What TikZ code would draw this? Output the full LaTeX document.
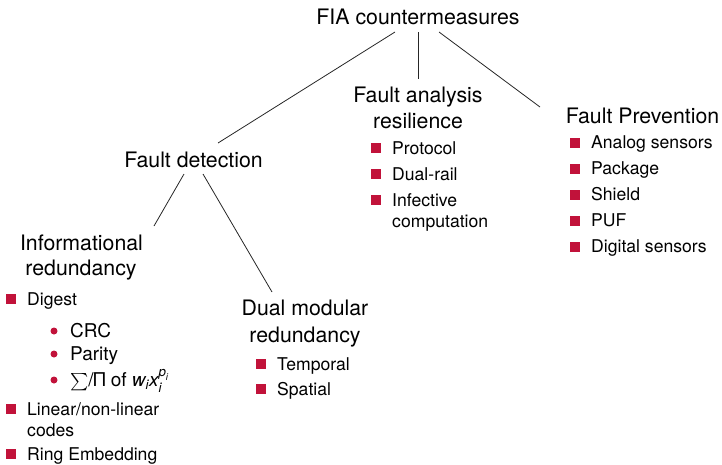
\documentclass[tikz,border=0pt]{standalone}
\usepackage{fontspec}
\usepackage{amsmath}
\setmainfont{TeX Gyre Heros}
\definecolor{crim}{RGB}{193,18,58}
\begin{document}
\begin{tikzpicture}[x=1pt,y=-1pt,
  head/.style={inner sep=0pt, anchor=base, font=\fontsize{21.3}{25}\selectfont},
  itm/.style={inner sep=0pt, anchor=base west, font=\fontsize{17.6}{21}\selectfont},
  subitm/.style={inner sep=0pt, anchor=base west, font=\fontsize{19}{23}\selectfont},
  sq/.style={fill=crim, inner sep=0pt, minimum size=10pt},
  rdot/.style={circle, fill=crim, inner sep=0pt, minimum size=7pt},
  conn/.style={line width=0.8pt, black!85}]
\useasboundingbox (0,0) rectangle (722,464);

% headings
\node[head] (title) at (418,24) {FIA countermeasures};
\node[head] (fd) at (193.5,167) {Fault detection};
\node[head] (fa) at (418,102) {Fault analysis};
\node[head] (fa2) at (418,128) {resilience};
\node[head] (fp) at (642.5,123) {Fault Prevention};
\node[head] (ir) at (81.5,250) {Informational};
\node[head] (ir2) at (81,275) {redundancy};
\node[head] (dm) at (305,315) {Dual modular};
\node[head] (dm2) at (305,342) {redundancy};

% connectors
\draw[conn] ([shift={(-23,8)}]title.base) -- ([shift={(24.5,-24)}]fd.base);
\draw[conn] ([shift={(0,8)}]title.base) -- ([shift={(0,-23)}]fa.base);
\draw[conn] ([shift={(21,8)}]title.base) -- ([shift={(-102.5,-16)}]fp.base);
\draw[conn] ([shift={(-9.5,7)}]fd.base) -- ([shift={(72.5,-24)}]ir.base);
\draw[conn] ([shift={(9.5,7)}]fd.base) -- ([shift={(-33,-23)}]dm.base);

% Fault analysis resilience items
\node[sq] (fab1) at (376,147.5) {};
\node[itm] (fat1) at (392,154) {Protocol};
\node[sq] (fab2) at (376,173.5) {};
\node[itm] (fat2) at (392,180) {Dual-rail};
\node[sq] (fab3) at (376,199.5) {};
\node[itm] (fat3) at (392,206) {Infective};
\node[itm] (fat3b) at (392,227) {computation};

% Fault Prevention items
\node[sq] (fpb1) at (575,142.5) {};
\node[itm] (fpt1) at (591,148) {Analog sensors};
\node[sq] (fpb2) at (575,168.5) {};
\node[itm] (fpt2) at (591,174) {Package};
\node[sq] (fpb3) at (575,194.5) {};
\node[itm] (fpt3) at (591,200) {Shield};
\node[sq] (fpb4) at (575,220.5) {};
\node[itm] (fpt4) at (591,226) {PUF};
\node[sq] (fpb5) at (575,246.5) {};
\node[itm] (fpt5) at (591,252) {Digital sensors};

% Informational redundancy items
\node[sq] (irb1) at (11,299) {};
\node[itm] (irt1) at (27,305) {Digest};
\node[rdot] (ird1) at (54,331) {};
\node[subitm] (irs1) at (70,337) {CRC};
\node[rdot] (ird2) at (54,354) {};
\node[subitm] (irs2) at (70,360) {Parity};
\node[rdot] (ird3) at (54,380) {};
\node[subitm] (irs3) at (70,386) {$\smash{\sum}$/Π of $\textit{w}_{\textit{i}}\textit{x}_{\textit{i}}^{\raisebox{-1.5pt}{$\scriptstyle\textit{p}_{\textit{i}}$}}$};
\node[sq] (irb2) at (11,409) {};
\node[itm] (irt2) at (27,415) {Linear/non-linear};
\node[itm] (irt2b) at (27,436) {codes};
\node[sq] (irb3) at (11,454) {};
\node[itm] (irt3) at (27,460) {Ring Embedding};

% Dual modular redundancy items
\node[sq] (dmb1) at (260.5,363.5) {};
\node[itm] (dmt1) at (277,370) {Temporal};
\node[sq] (dmb2) at (260.5,388.5) {};
\node[itm] (dmt2) at (277,395) {Spatial};
\end{tikzpicture}
\end{document}
